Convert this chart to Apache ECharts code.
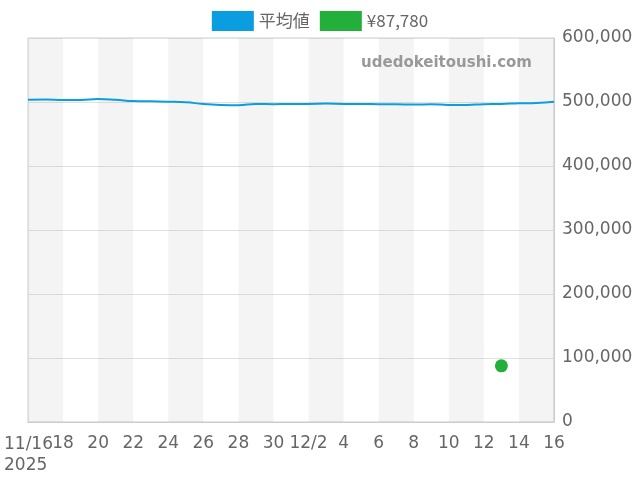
<!DOCTYPE html>
<html><head><meta charset="utf-8">
<script src="https://cdn.jsdelivr.net/npm/echarts@6/dist/echarts.min.js"></script>
<style>html,body{margin:0;padding:0;}#main{width:640px;height:480px;}</style>
</head><body>
<div id="main"></div>
<script>
var days = [];
for (var i = 16; i <= 30; i++) days.push('11/' + i);
for (var j = 1; j <= 16; j++) days.push('12/' + j);
var avgValues = [503500,503800,503000,503000,504500,503500,501500,501000,500500,499500,497000,495500,495000,497000,496500,497000,497000,497500,497000,497000,496500,496500,496000,496500,495500,495500,496500,497000,498000,498500,500500];
var priceDay = '12/13';
var priceValue = 87780;
var firstLabel = '11/16\n2025';

// alternating 2-day background bands
var bands = [];
for (var k = 0; k + 2 < days.length; k += 4) bands.push([{xAxis: days[k]}, {xAxis: days[k + 2]}]);

var myChart = echarts.init(document.getElementById('main'));
myChart.setOption({
    animation: false,
    legend: {
        top: 6, itemWidth: 42, itemHeight: 20, itemGap: 10,
        textStyle: {fontSize: 17, color: '#666', fontFamily: 'Noto Sans CJK JP'},
        data: [{name: '平均値', icon: 'rect'}, {name: '¥87,780', icon: 'rect'}]
    },
    graphic: [
        {type: 'text', right: 108, top: 56, z: 100, style: {text: 'udedokeitoushi.com', fontSize: 15, fontWeight: 'bold', fill: '#999', fontFamily: 'DejaVu Sans'}},
        {type: 'text', left: 4, top: 434, z: 100, style: {text: firstLabel, fontSize: 17, fill: '#666', fontFamily: 'DejaVu Sans', lineHeight: 21, align: 'left'}}
    ],
    grid: {left: 28, right: 86, top: 38, bottom: 58, show: true, borderColor: '#ccc', borderWidth: 1},
    xAxis: {
        type: 'category', data: days, boundaryGap: false,
        axisLine: {lineStyle: {color: '#ccc'}},
        axisTick: {show: false},
        axisLabel: {
            interval: 1, margin: 13, fontSize: 17, color: '#666', fontFamily: 'DejaVu Sans',
            formatter: function (v, idx) {
                if (idx === 0) return '';
                if (v === '12/2') return '12/2';
                return v.split('/')[1];
            }
        },
        splitLine: {show: false}
    },
    yAxis: {
        type: 'value', position: 'right', min: 0, max: 600000, interval: 100000,
        axisLine: {show: true, lineStyle: {color: '#ccc'}},
        axisLabel: {fontSize: 17, color: '#666', fontFamily: 'DejaVu Sans',
            formatter: function (v) { return v.toLocaleString('en-US'); }},
        splitLine: {lineStyle: {color: '#e2e2e2'}}
    },
    series: [
        {name: '平均値', type: 'line', data: avgValues, smooth: true, showSymbol: false,
         lineStyle: {color: '#0a9de0', width: 2}, itemStyle: {color: '#0a9de0'},
         markArea: {silent: true, itemStyle: {color: 'rgba(0,0,0,0.045)'}, data: bands}},
        {name: '¥87,780', type: 'scatter', data: [[priceDay, priceValue]], symbolSize: 13,
         itemStyle: {color: '#22b03a', opacity: 1}}
    ]
});
</script>
</body></html>
